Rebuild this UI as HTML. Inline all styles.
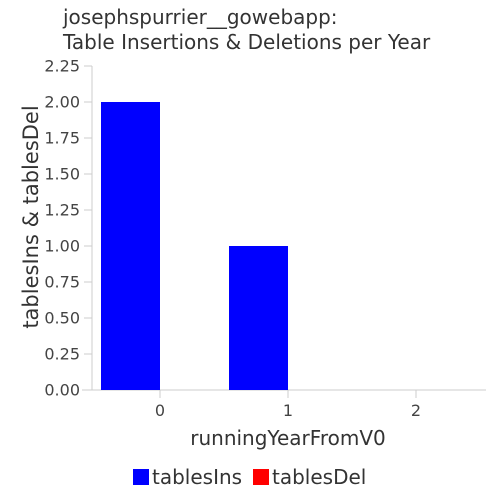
<!DOCTYPE html>
<html><head><meta charset="utf-8"><style>
body{margin:0;background:#fff;}
svg{display:block;font-family:"DejaVu Sans","Liberation Sans",sans-serif;}
</style></head><body>
<svg id="chart" width="500" height="500">
<text x="63" y="24" font-size="20" fill="#333">josephspurrier__gowebapp:</text>
<text x="63" y="49" font-size="20" fill="#333">Table Insertions &amp; Deletions per Year</text>
<g id="yaxis"></g>
<g id="xaxis"></g>
<g id="bars"></g>
<text transform="translate(38,217) rotate(-90)" text-anchor="middle" font-size="21" fill="#333">tablesIns &amp; tablesDel</text>
<text x="288" y="445" text-anchor="middle" font-size="20" fill="#333">runningYearFromV0</text>
<g>
<rect x="133" y="469" width="16" height="16" fill="#0000ff"/>
<text x="152" y="484" font-size="20" fill="#333">tablesIns</text>
<rect x="253" y="469" width="16" height="16" fill="#ff0000"/>
<text x="272" y="484" font-size="20" fill="#333">tablesDel</text>
</g>
</svg>
<script>
const categories = [0, 1, 2];
const tablesIns = [2, 1, 0];
const tablesDel = [0, 0, 0];
const yTicks = [0, 0.25, 0.5, 0.75, 1.0, 1.25, 1.5, 1.75, 2.0, 2.25];

const NS = "http://www.w3.org/2000/svg";
const y0 = 390, yTop = 66, yMax = 2.25;
const y = v => y0 - (v / yMax) * (y0 - yTop);
const xBand = i => 96 + i * 128;
const bandW = 128;
const xCenter = i => xBand(i) + bandW / 2;
function mk(tag, attrs, parent) {
  const el = document.createElementNS(NS, tag);
  for (const k in attrs) el.setAttribute(k, attrs[k]);
  parent.appendChild(el);
  return el;
}
const ya = document.getElementById('yaxis');
const xa = document.getElementById('xaxis');
const bars = document.getElementById('bars');
let l = mk('line', {x1: 92, y1: yTop, x2: 92, y2: y0, stroke: '#ccc'}, ya);


yTicks.forEach(t => {
  const tl = mk('line', {x1: 84, y1: y(t), x2: 92, y2: y(t), stroke: '#ccc'}, ya);
  
  
  const tx = mk('text', {x: 80, y: y(t) + 5.5, 'text-anchor': 'end', 'font-size': 16, fill: '#444'}, ya);
  tx.textContent = t.toFixed(2);
  
  
});
l = mk('line', {x1: 82, y1: y0, x2: 486, y2: y0, stroke: '#ccc'}, xa);


categories.forEach((c, i) => {
  const tl = mk('line', {x1: xCenter(i), y1: y0, x2: xCenter(i), y2: y0 + 8, stroke: '#ccc'}, xa);
  
  
  const tx = mk('text', {x: xCenter(i), y: y0 + 26, 'text-anchor': 'middle', 'font-size': 16, fill: '#444'}, xa);
  tx.textContent = c;
  
  
  const bw = 59;
  const b1 = mk('rect', {x: xCenter(i) - bw, y: y(tablesIns[i]), width: bw, height: y0 - y(tablesIns[i]), fill: '#0000ff'}, bars);
  
  
  const b2 = mk('rect', {x: xCenter(i), y: y(tablesDel[i]), width: bw, height: y0 - y(tablesDel[i]), fill: '#ff0000'}, bars);
  
  
});
</script>
</body></html>
